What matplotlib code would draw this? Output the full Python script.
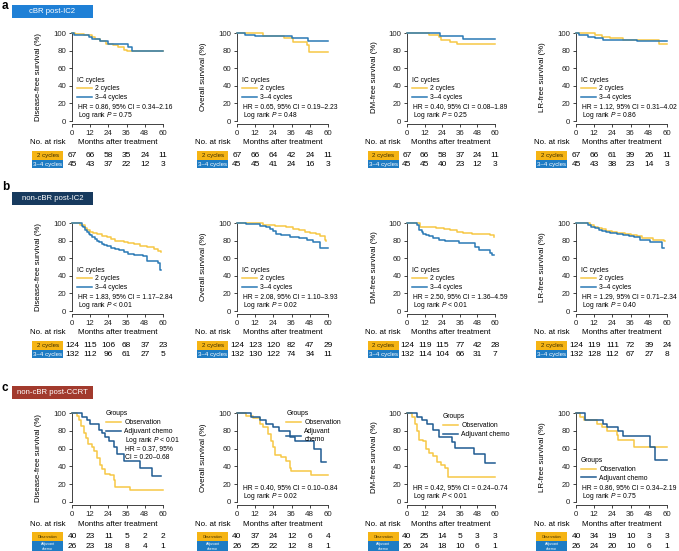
import matplotlib
matplotlib.use('Agg')
import matplotlib.pyplot as plt
from matplotlib.patches import Rectangle

plt.rcParams['font.family'] = ['Liberation Sans', 'DejaVu Sans']
plt.rcParams['mathtext.fontset'] = 'custom'
plt.rcParams['mathtext.rm'] = 'Liberation Sans'
plt.rcParams['mathtext.it'] = 'Liberation Sans:italic'

# ---------------- data ----------------
xticks = [0, 12, 24, 36, 48, 60]
yticks = [0, 20, 40, 60, 80, 100]

row_titles = ['cBR post-IC2', 'non-cBR post-IC2', 'non-cBR post-CCRT']
row_letters = ['a', 'b', 'c']
ylabels = ['Disease-free survival (%)', 'Overall survival (%)',
           'DM-free survival (%)', 'LR-free survival (%)']
groups_ab = ['2 cycles', '3\u20134 cycles']
groups_c = ['Observation', 'Adjuvant chemo']

# Row a (cBR post-IC2)
a1_y_t = [0, 2, 8, 13, 15, 18.5, 22.5, 27, 30.5, 34, 36, 60]
a1_y_s = [100, 99, 98, 95, 93, 91, 87, 86, 84, 81, 80, 80]
a1_b_t = [0, 1, 11, 13, 18.5, 23.5, 37, 39.5, 60]
a1_b_s = [100, 98, 96, 93, 91, 88, 84, 80, 80]
a2_y_t = [0, 17, 31, 37, 46, 47.5, 60]
a2_y_s = [100, 97, 94, 90, 86, 78, 78]
a2_b_t = [0, 5, 12, 36, 47, 60]
a2_b_s = [100, 98, 97, 94, 91, 91]
a3_y_t = [0, 14.7, 21.5, 23.5, 29, 34, 60]
a3_y_s = [100, 98, 95, 92, 90, 88, 88]
a3_b_t = [0, 22.6, 38.5, 60]
a3_b_s = [100, 97, 93, 93]
a4_y_t = [0, 12.5, 17, 22.5, 31, 54.5, 60]
a4_y_s = [100, 98, 96, 94, 92, 87, 87]
a4_b_t = [0, 2, 8, 12.5, 18, 40, 60]
a4_b_s = [100, 98, 96, 94, 92, 91, 91]

# Row b (non-cBR post-IC2)
b1_y_t = [0, 5.5, 8.8, 10, 12, 14, 16.5, 20, 23, 26, 28.5, 31, 34, 37, 40.7, 45, 49.5, 54, 57, 59]
b1_y_s = [100, 98, 94, 92, 90, 89, 87, 85, 84, 82, 80, 79, 78, 77, 76, 74, 73, 71, 68, 67]
b1_b_t = [0, 6.6, 7.5, 8.8, 10, 11, 12, 13, 15, 16.5, 18, 20, 21, 23, 26, 28.5, 31, 34, 37, 40.7, 47, 49.5, 57, 58, 59]
b1_b_s = [100, 97, 95, 92, 90, 88, 86, 84, 82, 80, 78, 76, 75, 74, 72, 71, 69, 67, 65, 64, 62, 57, 55, 47, 47]
b2_y_t = [0, 17, 25, 32, 37, 41, 45, 48, 52, 54.5, 57.8, 59]
b2_y_s = [100, 98, 97, 95, 93, 92, 90, 89, 87, 85, 81, 80]
b2_b_t = [0, 6, 15, 19, 22, 24, 26, 29, 35, 41, 46, 50, 54.5, 60]
b2_b_s = [100, 99, 97, 95, 93, 91, 88, 86, 84, 83, 81, 78, 72, 72]
b3_y_t = [0, 9, 20, 25, 29, 34, 38, 44, 56.7, 59]
b3_y_s = [100, 96, 94, 93, 92, 90, 89, 87, 86, 84]
b3_b_t = [0, 6.7, 8.4, 10, 11, 13, 15, 18, 22, 26, 29, 35.5, 46.7, 49, 56.7, 58, 59]
b3_b_s = [100, 98, 92, 90, 88, 86, 85, 83, 81, 80, 79, 77, 73, 69, 66, 64, 64]
b4_y_t = [0, 9, 12, 14.5, 17, 20, 24, 27, 32, 36, 40, 43.5, 51, 58, 59]
b4_y_s = [100, 98, 96, 94, 93, 91, 90, 89, 88, 86, 85, 83, 81, 79, 79]
b4_b_t = [0, 8, 10, 12.5, 15, 17, 20, 22.5, 27, 31, 35, 38, 42, 49, 56.7, 58]
b4_b_s = [100, 98, 96, 94, 92, 91, 90, 89, 87, 86, 85, 84, 81, 78, 72, 72]

# Row c (non-cBR post-CCRT)
c1_y_t = [0, 3.3, 4.8, 6.2, 7.7, 9, 10.5, 13.2, 14.3, 16.5, 18.2, 20, 22, 25, 27.5, 28.6, 38.5, 60]
c1_y_s = [100, 97, 92, 85, 77, 72, 65, 62, 57, 50, 42, 37, 32, 30, 25, 17, 13, 13]
c1_b_t = [0, 6.6, 10, 12, 17.6, 20, 22, 24.2, 27.5, 29.7, 34, 45, 52.7, 59]
c1_b_s = [100, 96, 92, 88, 81, 77, 73, 69, 62, 54, 46, 38, 29, 29]
c2_y_t = [0, 6, 10.5, 15, 17, 20.4, 22.6, 23.7, 25, 29, 32.5, 34.7, 35.8, 49, 60]
c2_y_s = [100, 97, 94, 88, 84, 76, 68, 62, 53, 51, 46, 38, 35, 30, 30]
c2_b_t = [0, 9.5, 15, 19.3, 23.7, 28, 35, 38, 51, 55.6, 59]
c2_b_s = [100, 96, 92, 88, 84, 80, 73, 68, 59, 45, 45]
c3_y_t = [0, 3.3, 5.5, 7, 8.4, 11, 13, 15, 17.8, 20.4, 23.3, 26.2, 27.8, 60]
c3_y_s = [100, 95, 88, 80, 70, 68, 60, 55, 52, 45, 42, 38, 28, 28]
c3_b_t = [0, 6.7, 10, 13.3, 17.8, 22, 31, 33, 45.5, 53, 60]
c3_b_s = [100, 96, 92, 88, 81, 73, 67, 61, 54, 44, 44]
c4_y_t = [0, 2.6, 5, 13.7, 17, 20.3, 27, 28, 38, 60]
c4_y_s = [100, 96, 92, 88, 84, 80, 75, 70, 62, 62]
c4_b_t = [0, 6, 18, 20.3, 28, 31, 49, 52, 60]
c4_b_s = [100, 92, 88, 84, 80, 74, 62, 47, 47]

# Numbers at risk
a_risk_y = [[67, 66, 58, 35, 24, 11], [67, 66, 64, 42, 24, 11], [67, 66, 58, 37, 24, 11], [67, 66, 61, 39, 26, 11]]
a_risk_b = [[45, 43, 37, 22, 12, 3], [45, 45, 41, 24, 16, 3], [45, 45, 40, 23, 12, 3], [45, 43, 38, 23, 14, 3]]
b_risk_y = [[124, 115, 106, 68, 37, 23], [124, 123, 120, 82, 47, 29], [124, 119, 115, 77, 42, 28], [124, 119, 111, 72, 39, 24]]
b_risk_b = [[132, 112, 96, 61, 27, 5], [132, 130, 122, 74, 34, 11], [132, 114, 104, 66, 31, 7], [132, 128, 112, 67, 27, 8]]
c_risk_y = [[40, 23, 11, 5, 2, 2], [40, 37, 24, 12, 6, 4], [40, 25, 14, 5, 3, 3], [40, 34, 19, 10, 3, 3]]
c_risk_b = [[26, 23, 18, 8, 4, 1], [26, 25, 22, 12, 8, 1], [26, 24, 18, 10, 6, 1], [26, 24, 20, 10, 6, 1]]

hr_text = [
    ['HR = 0.86, 95% CI = 0.34\u20132.16', 'HR = 0.65, 95% CI = 0.19\u20132.23',
     'HR = 0.40, 95% CI = 0.08\u20131.89', 'HR = 1.12, 95% CI = 0.31\u20134.02'],
    ['HR = 1.83, 95% CI = 1.17\u20132.84', 'HR = 2.08, 95% CI = 1.10\u20133.93',
     'HR = 2.50, 95% CI = 1.36\u20134.59', 'HR = 1.29, 95% CI = 0.71\u20132.34'],
    ['HR = 0.37, 95%\nCI = 0.20\u20130.68', 'HR = 0.40, 95% CI = 0.10\u20130.84',
     'HR = 0.42, 95% CI = 0.24\u20130.74', 'HR = 0.86, 95% CI = 0.34\u20132.19'],
]
p_text = [
    ['= 0.75', '= 0.48', '= 0.25', '= 0.86'],
    ['< 0.01', '= 0.02', '< 0.01', '= 0.40'],
    ['< 0.01', '= 0.02', '< 0.01', '= 0.75'],
]

curves = [
    [(a1_y_t, a1_y_s, a1_b_t, a1_b_s), (a2_y_t, a2_y_s, a2_b_t, a2_b_s),
     (a3_y_t, a3_y_s, a3_b_t, a3_b_s), (a4_y_t, a4_y_s, a4_b_t, a4_b_s)],
    [(b1_y_t, b1_y_s, b1_b_t, b1_b_s), (b2_y_t, b2_y_s, b2_b_t, b2_b_s),
     (b3_y_t, b3_y_s, b3_b_t, b3_b_s), (b4_y_t, b4_y_s, b4_b_t, b4_b_s)],
    [(c1_y_t, c1_y_s, c1_b_t, c1_b_s), (c2_y_t, c2_y_s, c2_b_t, c2_b_s),
     (c3_y_t, c3_y_s, c3_b_t, c3_b_s), (c4_y_t, c4_y_s, c4_b_t, c4_b_s)],
]
risks = [(a_risk_y, a_risk_b), (b_risk_y, b_risk_b), (c_risk_y, c_risk_b)]

# ---------------- style / layout ----------------
W, H = 679, 551
fig = plt.figure(figsize=(W / 100, H / 100), dpi=100)

YEL = '#f7c845'
BLU_AB = '#2a79b5'
BLU_C = '#1f5b92'
BOX_Y = '#f5b414'
BOX_B = '#1e7cc4'
HEAD_COLORS = ['#1f80d6', '#173a5e', '#a23a2d']

col_x = [72, 237, 407, 576]
col_w = [91, 91, 88, 91]
row_top = [33, 223, 413]
row_h = [88, 88, 89]
head_y = [5, 192, 386]
letter_y = [0, 181, 382]

FS = 5.7
LFS = 4.85

for r in range(3):
    # panel letter and header box
    fig.text(2 / W, 1 - letter_y[r] / H, row_letters[r], fontsize=8.5, fontweight='bold',
             va='top', ha='left')
    hb = Rectangle((12 / W, 1 - (head_y[r] + 13) / H), 81 / W, 13 / H,
                   transform=fig.transFigure, facecolor=HEAD_COLORS[r], edgecolor='none')
    fig.patches.append(hb)
    fig.text(52.5 / W, 1 - (head_y[r] + 6.5) / H, row_titles[r], color='white',
             fontsize=5.6, ha='center', va='center')

    blu = BLU_C if r == 2 else BLU_AB
    names = groups_c if r == 2 else groups_ab
    for c in range(4):
        ax = fig.add_axes([col_x[c] / W, 1 - (row_top[r] + row_h[r]) / H,
                           col_w[c] / W, row_h[r] / H])
        yt, ys, bt, bs = curves[r][c]
        ly, = ax.step(yt, ys, where='post', color=YEL, lw=1.1, clip_on=False, zorder=3)
        lb, = ax.step(bt, bs, where='post', color=blu, lw=1.1, clip_on=False, zorder=3)
        ax.set_xlim(0, 60)
        ax.set_ylim(0, 100)
        ax.set_xticks(xticks)
        ax.set_yticks(yticks)
        for s in ['top', 'right']:
            ax.spines[s].set_visible(False)
        for s in ['left', 'bottom']:
            ax.spines[s].set_linewidth(0.6)
            ax.spines[s].set_color('#222222')
        ax.spines['bottom'].set_position(('outward', 2.5))
        ax.tick_params(labelsize=FS, length=2.5, width=0.6, pad=1.5, colors='#222222')
        ax.set_ylabel(ylabels[c], fontsize=FS)
        ax.yaxis.set_label_coords(-0.33, 0.5)
        ax.text(0.5, -0.25, 'Months after treatment', transform=ax.transAxes,
                fontsize=FS, ha='center', va='center')
        ax.text(-0.07, -0.25, 'No. at risk', transform=ax.transAxes,
                fontsize=FS, ha='right', va='center')

        # legend + stats
        labels = list(names)
        if r == 2 and c == 1:
            labels = ['Observation', 'Adjuvant\nchemo']
        title = 'Groups' if r == 2 else 'IC cycles'
        if r < 2 or c == 3:
            anchor = (0.055, 0.505)
        elif c == 0:
            anchor = (0.375, 1.03)
        elif c == 1:
            anchor = (0.54, 1.03)
        else:
            anchor = (0.41, 0.995)
        leg = ax.legend([ly, lb], labels, title=title, loc='upper left',
                        bbox_to_anchor=anchor, frameon=False, fontsize=LFS,
                        title_fontsize=LFS, handlelength=2.2, handletextpad=0.5,
                        labelspacing=0.28, borderpad=0, borderaxespad=0,
                        alignment='left')
        leg.get_title().set_fontsize(LFS)
        ptxt = 'Log rank $P$ ' + p_text[r][c]
        if r == 2 and c == 0:
            ax.text(0.585, 0.69, ptxt, transform=ax.transAxes, fontsize=LFS, va='center')
            ax.text(0.585, 0.55, hr_text[r][c], transform=ax.transAxes, fontsize=LFS,
                    va='center', linespacing=1.35)
        else:
            ax.text(0.065, 0.165, hr_text[r][c], transform=ax.transAxes, fontsize=LFS, va='center')
            ax.text(0.065, 0.065, ptxt, transform=ax.transAxes, fontsize=LFS, va='center')

        # risk table
        ry, rb = risks[r]
        tr = ax.get_xaxis_transform()
        if r < 2:
            y1, y2 = -0.392, -0.49
            bh = 0.097
            box_labels = ['2 cycles', '3\u20134 cycles']
            bfs = 4.4
        else:
            y1, y2 = -0.39, -0.50
            bh = 0.10
            box_labels = ['Observation', 'Adjuvant\nchemo']
            bfs = 2.6
        for yy, col, lab, tc, h2 in [(y1, BOX_Y, box_labels[0], '#3a2a00', bh),
                                      (y2, BOX_B, box_labels[1], 'white', bh * (1.25 if r == 2 else 1))]:
            rect = Rectangle((-0.44, yy - h2 / 2), 0.345, h2, transform=ax.transAxes,
                             facecolor=col, edgecolor='none', clip_on=False)
            ax.add_patch(rect)
            ax.text(-0.2675, yy, lab, transform=ax.transAxes, fontsize=bfs, color=tc,
                    ha='center', va='center', linespacing=1.0)
        for xv, n1, n2 in zip(xticks, ry[c], rb[c]):
            ax.text(xv, y1, str(n1), transform=tr, fontsize=FS + 0.3, ha='center', va='center')
            ax.text(xv, y2, str(n2), transform=tr, fontsize=FS + 0.3, ha='center', va='center')

fig.savefig('out.png', dpi=100)
